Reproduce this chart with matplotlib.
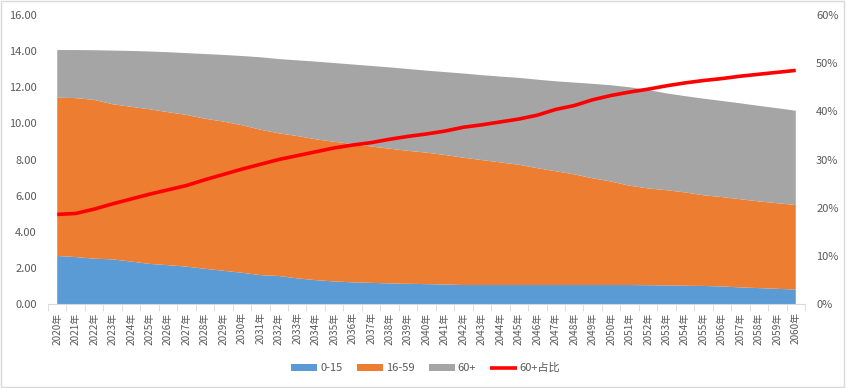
import matplotlib
matplotlib.use("Agg")
import matplotlib.pyplot as plt
from matplotlib.patches import Rectangle
from matplotlib.ticker import FuncFormatter, FixedLocator

plt.rcParams['font.family'] = ['Noto Sans CJK SC', 'DejaVu Sans']

years = [f"{y}年" for y in range(2020, 2061)]

age_0_15 = [2.66, 2.60, 2.51, 2.47, 2.35, 2.22, 2.15, 2.07, 1.95, 1.84,
            1.73, 1.60, 1.55, 1.42, 1.32, 1.25, 1.20, 1.17, 1.14, 1.12,
            1.10, 1.08, 1.05, 1.05, 1.05, 1.05, 1.05, 1.05, 1.05, 1.05,
            1.05, 1.05, 1.04, 1.03, 1.01, 1.00, 0.97, 0.92, 0.88, 0.84, 0.80]

age_16_59 = [8.76, 8.80, 8.79, 8.59, 8.57, 8.56, 8.47, 8.40, 8.31, 8.26,
             8.17, 8.05, 7.90, 7.88, 7.80, 7.73, 7.66, 7.55, 7.46, 7.36,
             7.28, 7.17, 7.05, 6.92, 6.79, 6.66, 6.47, 6.30, 6.13, 5.91,
             5.73, 5.50, 5.36, 5.27, 5.17, 5.02, 4.95, 4.88, 4.80, 4.74, 4.68]

age_60p = [2.64, 2.66, 2.75, 2.97, 3.09, 3.20, 3.32, 3.42, 3.58, 3.69,
           3.83, 4.01, 4.11, 4.19, 4.30, 4.36, 4.40, 4.46, 4.50, 4.53,
           4.54, 4.59, 4.66, 4.70, 4.75, 4.81, 4.90, 4.98, 5.08, 5.23,
           5.33, 5.45, 5.45, 5.36, 5.33, 5.35, 5.32, 5.31, 5.29, 5.26, 5.22]

share_60p = [18.6, 18.8, 19.7, 20.8, 21.8, 22.8, 23.7, 24.6, 25.8, 26.9,
             28.0, 29.0, 30.0, 30.8, 31.6, 32.4, 33.0, 33.5, 34.2, 34.8,
             35.3, 35.9, 36.7, 37.2, 37.8, 38.4, 39.2, 40.4, 41.2, 42.4,
             43.3, 44.0, 44.6, 45.3, 45.9, 46.4, 46.8, 47.3, 47.7, 48.1, 48.5]

series_labels = ["0-15", "16-59", "60+", "60+占比"]
colors = ["#5B9BD5", "#ED7D31", "#A5A5A5", "#FF0000"]
text_color = "#595959"

fig = plt.figure(figsize=(8.46, 3.88), dpi=100)
fig.patches.append(Rectangle((0.001, 0.002), 0.997, 0.995, transform=fig.transFigure,
                             fill=False, edgecolor="#D9D9D9", linewidth=1))
ax = fig.add_axes([48/846, 84/388, (805-48)/846, (304-15)/388])

x = list(range(len(years)))
polys = ax.stackplot(x, age_0_15, age_16_59, age_60p, colors=colors[:3],
                     labels=series_labels[:3], linewidth=0)
ax.set_xlim(-0.5, len(years) - 0.5)
ax.set_ylim(0, 16)
ax.set_yticks([0, 2, 4, 6, 8, 10, 12, 14, 16])
ax.yaxis.set_major_formatter(FuncFormatter(lambda v, p: f"{v:.2f}"))
ax.tick_params(axis='y', length=0, labelsize=8, labelcolor=text_color, pad=8)

ax.set_xticks(x)
ax.set_xticklabels(years, rotation=90, fontsize=7.2, color=text_color)
ax.xaxis.set_minor_locator(FixedLocator([i - 0.5 for i in range(len(years) + 1)]))
ax.tick_params(axis='x', which='major', length=0, pad=6)
ax.tick_params(axis='x', which='minor', length=5, color="#D9D9D9", direction='out')

for s in ['top', 'left', 'right']:
    ax.spines[s].set_visible(False)
ax.spines['bottom'].set_color("#D9D9D9")

ax2 = ax.twinx()
line, = ax2.plot(x, share_60p, color=colors[3], linewidth=2.6, label=series_labels[3],
                 solid_capstyle='butt')
ax2.set_ylim(0, 60)
ax2.set_yticks([0, 10, 20, 30, 40, 50, 60])
ax2.yaxis.set_major_formatter(FuncFormatter(lambda v, p: f"{int(v)}%"))
ax2.tick_params(axis='y', length=0, labelsize=8, labelcolor=text_color, pad=8)
for s in ['top', 'left', 'right', 'bottom']:
    ax2.spines[s].set_visible(False)

handles = list(polys) + [line]
leg = fig.legend(handles, series_labels, loc='center', bbox_to_anchor=(0.503, 0.0515),
                 ncol=4, frameon=False, fontsize=8, handlelength=2.35, handleheight=0.55,
                 columnspacing=1.3, handletextpad=0.25)
for t in leg.get_texts():
    t.set_color(text_color)

fig.savefig("out.png", dpi=100)
